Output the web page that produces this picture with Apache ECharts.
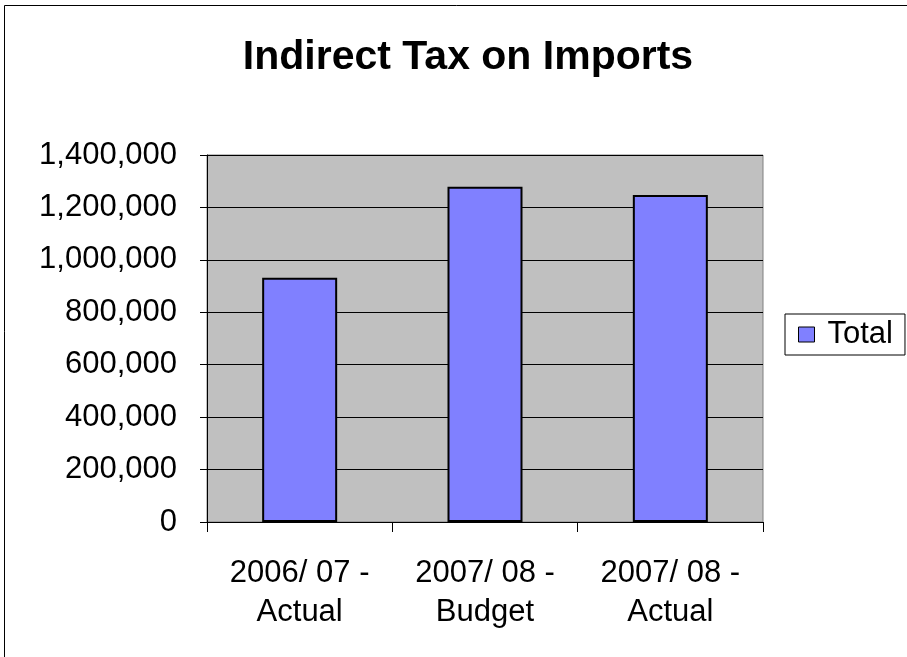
<!DOCTYPE html>
<html>
<head>
<meta charset="utf-8">
<script src="https://cdn.jsdelivr.net/npm/echarts@6/dist/echarts.min.js"></script>
<style>
  html, body { margin: 0; padding: 0; background: #fff; }
  #chart { width: 907px; height: 657px; }
</style>
</head>
<body>
<div id="chart"></div>
<script>
// Indirect tax on imports by period
const categories = ['2006/ 07 -\nActual', '2007/ 08 -\nBudget', '2007/ 08 -\nActual'];
const totals = [932000, 1279000, 1247000];
const seriesName = 'Total';
const yTicks = { min: 0, max: 1400000, interval: 200000 };

const FONT = '"Liberation Sans", Arial, sans-serif';
const chart = echarts.init(document.getElementById('chart'), null, { renderer: 'canvas' });

chart.setOption({
  backgroundColor: '#ffffff',
  animation: false,
  textStyle: { fontFamily: FONT },
  title: {
    text: 'Indirect Tax on Imports',
    left: 463,
    textAlign: 'center',
    top: 32,
    textStyle: { fontFamily: FONT, fontSize: 41, fontWeight: 'bold', color: '#000' }
  },
  legend: {
    data: [seriesName],
    orient: 'vertical',
    left: 785,
    top: 314,
    padding: [3, 12, 3, 13],
    icon: 'rect',
    itemWidth: 16,
    itemHeight: 15,
    itemGap: 0,
    borderColor: '#000',
    borderWidth: 1,
    backgroundColor: '#fff',
    textStyle: { fontFamily: FONT, fontSize: 31, lineHeight: 35, color: '#000', padding: [0, 0, 0, 8] },
    itemStyle: { borderColor: '#000', borderWidth: 1 }
  },
  grid: {
    left: 207,
    top: 155,
    right: 144,
    bottom: 135,
    show: true,
    backgroundColor: '#c0c0c0',
    borderColor: '#808080',
    borderWidth: 1
  },
  xAxis: {
    type: 'category',
    data: categories,
    axisLine: { show: true, lineStyle: { color: '#000', width: 1 } },
    axisTick: { show: true, alignWithLabel: false, length: 10, lineStyle: { color: '#000' } },
    axisLabel: {
      fontFamily: FONT,
      fontSize: 31,
      color: '#000',
      margin: 32,
      lineHeight: 39,
      align: 'center'
    },
    splitLine: { show: false }
  },
  yAxis: {
    type: 'value',
    min: yTicks.min,
    max: yTicks.max,
    interval: yTicks.interval,
    axisLine: { show: true, lineStyle: { color: '#000', width: 1 } },
    axisTick: { show: true, length: 7, lineStyle: { color: '#000' } },
    axisLabel: {
      fontFamily: FONT,
      fontSize: 31,
      color: '#000',
      margin: 30,
      formatter: v => v.toLocaleString('en-US')
    },
    splitLine: { show: true, lineStyle: { color: '#000', width: 1 } }
  },
  series: [{
    name: seriesName,
    type: 'bar',
    data: totals,
    barWidth: 75,
    itemStyle: { color: '#8080ff', borderColor: '#000', borderWidth: 2 }
  }],
  graphic: [{
    type: 'rect',
    shape: { x: 4.5, y: 5.5, width: 920, height: 670 },
    style: { fill: null, stroke: '#000', lineWidth: 1 },
    silent: true,
    z: 100
  }]
});
</script>
</body>
</html>
